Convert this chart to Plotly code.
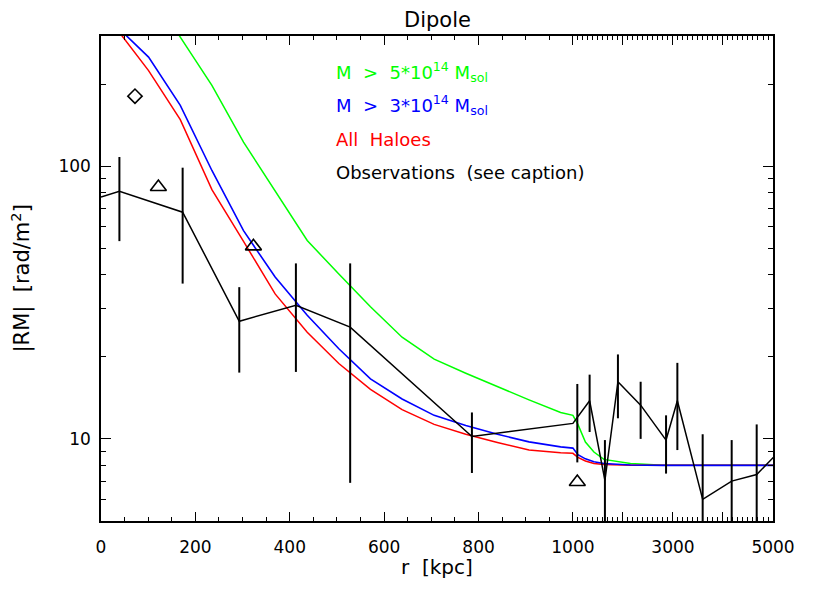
import plotly.graph_objects as go
import numpy as np

# ---------------- data (r in kpc, |RM| in rad/m^2) ----------------
r_sim = [33.6, 100.8, 168, 235, 302, 369, 437, 504, 571, 638, 706, 773, 840, 907, 974,
         1000, 1100, 1250, 1420, 1620, 2150, 2800, 5000]
rm_all = [318, 224, 148, 82, 53, 34, 24.6, 18.9, 15.2, 12.8, 11.3, 10.4, 9.7, 9.1, 8.9,
          8.85, 8.55, 8.3, 8.12, 8.05, 8.0, 8.0, 8.0]
rm_m3 = [325, 251, 167, 96.4, 58, 39.2, 28.4, 21.4, 16.6, 14.0, 12.2, 11.2, 10.4, 9.75, 9.35,
         9.25, 8.75, 8.45, 8.25, 8.12, 8.02, 8.0, 8.0]
rm_m5 = [700, 450, 297, 197.6, 122.4, 81.5, 53.4, 40.2, 30.5, 23.6, 19.6, 17.4, 15.5, 13.9, 12.5,
         12.2, 11.3, 9.74, 8.95, 8.41, 8.12, 8.0, 8.0]

obs_r = [0, 39, 173, 293, 413, 528, 786, 1000, 1334, 1640, 1900, 2354, 2862, 3088, 3594, 4174, 4674, 5200]
obs_v = [77, 80.8, 67.8, 27, 30.9, 25.7, 10.2, 11.4, 13.8, 7.05, 16.2, 13.3, 9.9, 13.8, 6.0, 7.0, 7.4, 9.3]

bar_r = [39, 173, 293, 413, 528, 786, 1088, 1334, 1640, 1900, 2354, 2862, 3088, 3594, 4174, 4674]
bar_lo = [53.1, 37.1, 17.5, 17.6, 6.9, 7.5, 8.2, 10.6, 4, 11.9, 10.0, 7.46, 9.1, 4, 4, 4]
bar_hi = [108, 98.7, 36, 44, 44, 12.5, 15.9, 17.2, 9.9, 20.4, 16.2, 12.2, 19, 10.4, 9.9, 11.3]

tri_r = [121.6, 323, 1088]
tri_v = [83.8, 50.8, 6.95]
dia_r = [72]
dia_v = [180.5]

x_major = [0, 200, 400, 600, 800, 1000, 2000, 3000, 4000, 5000]
x_major_text = ["0", "200", "400", "600", "800", "1000", "", "3000", "", "5000"]
y_major = [10, 100]
y_major_text = ["10", "100"]

# piecewise axis: linear to 1000 kpc, compressed beyond
K_OUT = 0.106


def xmap(r):
    r = np.asarray(r, dtype=float)
    return np.where(r <= 1000, r, 1000 + (r - 1000) * K_OUT)


x_minor_r = [v for v in range(50, 1000, 50) if v % 200 != 0] + \
            [v for v in range(1100, 5000, 100) if v % 1000 != 0]
y_minor = [5, 6, 7, 8, 9, 20, 30, 40, 50, 60, 70, 80, 90, 200, 300]

FONT = "DejaVu Sans"

fig = go.Figure()
fig.add_trace(go.Scatter(x=xmap(r_sim), y=rm_m5, mode="lines",
                         line=dict(color="#00ff00", width=1.5), showlegend=False))
fig.add_trace(go.Scatter(x=xmap(r_sim), y=rm_all, mode="lines",
                         line=dict(color="#ff0000", width=1.5), showlegend=False))
fig.add_trace(go.Scatter(x=xmap(r_sim), y=rm_m3, mode="lines",
                         line=dict(color="#0000ff", width=1.6), showlegend=False))
fig.add_trace(go.Scatter(x=xmap(obs_r), y=obs_v, mode="lines",
                         line=dict(color="black", width=1.5), showlegend=False))

# error bars as vertical segments
ex, ey = [], []
for xb, lo, hi in zip(xmap(bar_r), bar_lo, bar_hi):
    ex += [xb, xb, None]
    ey += [lo, hi, None]
fig.add_trace(go.Scatter(x=ex, y=ey, mode="lines",
                         line=dict(color="black", width=2), showlegend=False))

fig.add_trace(go.Scatter(x=xmap(tri_r), y=tri_v, mode="markers",
                         marker=dict(symbol="triangle-up-open", size=14, color="black",
                                     line=dict(width=1.6, color="black")),
                         showlegend=False))
fig.add_trace(go.Scatter(x=xmap(dia_r), y=dia_v, mode="markers",
                         marker=dict(symbol="diamond-open", size=11, color="black",
                                     line=dict(width=1.6, color="black")),
                         showlegend=False))

# page offset of the plotly div (body margin) and target plot box in page pixels
OFF = 8
W, H = 830 - OFF, 593 - OFF
P_L, P_R, P_T, P_B = 101, 773, 36, 521
L, T = P_L - OFF, P_T - OFF
R, B = W - (P_R - OFF), H - (P_B - OFF)
pw, ph = P_R - P_L, P_B - P_T


def px_x(p):
    return (p - P_L) / pw


def px_y(p):
    return (P_B - p) / ph


anns = [
    dict(text="Dipole", x=0.5, y=px_y(20), xanchor="center", yanchor="middle",
         font=dict(size=21)),
    dict(text="r  [kpc]", x=0.5, y=px_y(567), xanchor="center", yanchor="middle",
         font=dict(size=20)),
    dict(text="|RM|  [rad/m<sup>2</sup>]", x=px_x(21), y=0.5, xanchor="center",
         yanchor="middle", textangle=-90, font=dict(size=21)),
    dict(text="M  >  5*10<sup>14</sup> M<sub>sol</sub>", x=px_x(334), y=px_y(72),
         xanchor="left", yanchor="middle", font=dict(size=18, color="#00ff00")),
    dict(text="M  >  3*10<sup>14</sup> M<sub>sol</sub>", x=px_x(334), y=px_y(105),
         xanchor="left", yanchor="middle", font=dict(size=18, color="#0000ff")),
    dict(text="All  Haloes", x=px_x(334), y=px_y(139),
         xanchor="left", yanchor="middle", font=dict(size=18, color="#ff0000")),
    dict(text="Observations  (see caption)", x=px_x(334), y=px_y(172),
         xanchor="left", yanchor="middle", font=dict(size=18, color="black")),
]
for a in anns:
    a.update(xref="paper", yref="paper", showarrow=False)
    a["font"].setdefault("color", "black")
    a["font"]["family"] = FONT

fig.update_layout(
    width=W, height=H, autosize=False,
    margin=dict(l=L, r=R, t=T, b=B, pad=0),
    paper_bgcolor="white", plot_bgcolor="white",
    font=dict(family=FONT, size=17, color="black"),
    annotations=anns,
    xaxis=dict(
        range=[0, float(xmap([5000])[0])],
        tickmode="array", tickvals=xmap(x_major), ticktext=x_major_text,
        ticks="inside", ticklen=9, tickwidth=1.3, tickcolor="black",
        showline=True, linecolor="black", linewidth=1.5, mirror="ticks",
        showgrid=False, zeroline=False, ticklabelstandoff=10,
        minor=dict(tickmode="array", tickvals=xmap(x_minor_r), ticks="inside",
                   ticklen=4, tickwidth=1.1, tickcolor="black", showgrid=False),
    ),
    yaxis=dict(
        type="log", range=[np.log10(5), np.log10(300)],
        tickmode="array", tickvals=y_major, ticktext=y_major_text,
        ticks="inside", ticklen=10, tickwidth=1.3, tickcolor="black",
        showline=True, linecolor="black", linewidth=1.5, mirror="ticks",
        showgrid=False, zeroline=False, ticklabelstandoff=5,
        minor=dict(tickmode="array", tickvals=y_minor, ticks="inside",
                   ticklen=5, tickwidth=1.1, tickcolor="black", showgrid=False),
    ),
)

fig.write_html("out.html")
